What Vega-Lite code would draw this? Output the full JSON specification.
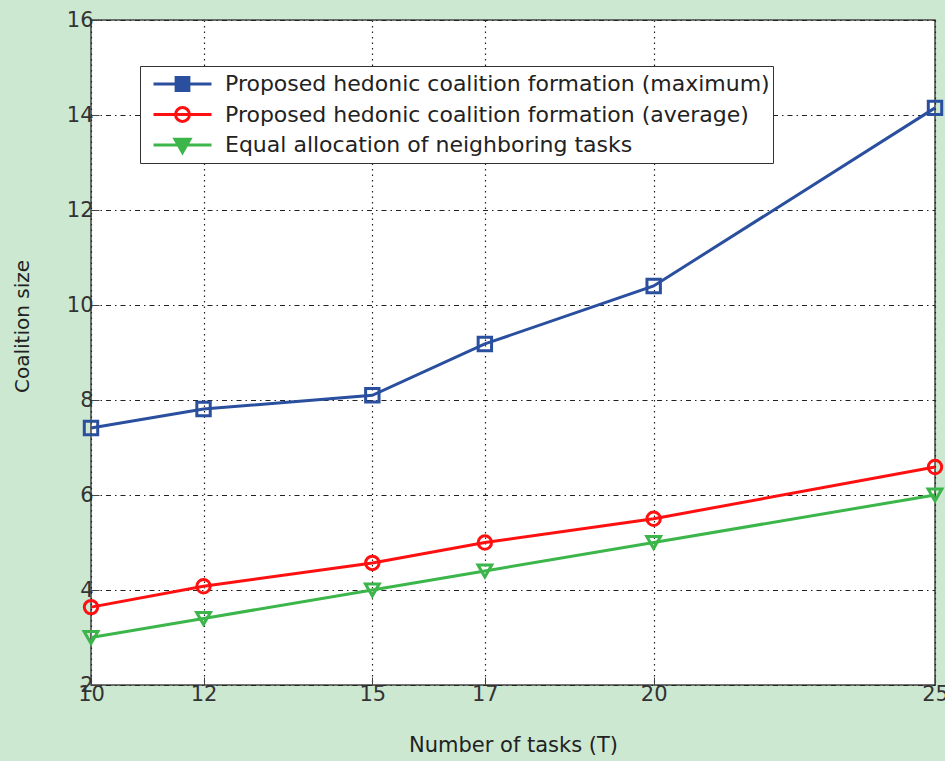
{
  "$schema": "https://vega.github.io/schema/vega-lite/v6.json",
  "width": 844,
  "height": 665,
  "autosize": "none",
  "padding": {"left": 91, "top": 20, "right": 10, "bottom": 76},
  "background": "#cce8d1",
  "config": {
    "font": "DejaVu Sans",
    "view": {"stroke": "#444", "strokeWidth": 1.5, "fill": "white"}
  },
  "data": {
    "values": [
      {"T": 10, "size": 7.41, "series": "Proposed hedonic coalition formation (maximum)"},
      {"T": 12, "size": 7.81, "series": "Proposed hedonic coalition formation (maximum)"},
      {"T": 15, "size": 8.1, "series": "Proposed hedonic coalition formation (maximum)"},
      {"T": 17, "size": 9.18, "series": "Proposed hedonic coalition formation (maximum)"},
      {"T": 20, "size": 10.4, "series": "Proposed hedonic coalition formation (maximum)"},
      {"T": 25, "size": 14.15, "series": "Proposed hedonic coalition formation (maximum)"},
      {"T": 10, "size": 3.64, "series": "Proposed hedonic coalition formation (average)"},
      {"T": 12, "size": 4.08, "series": "Proposed hedonic coalition formation (average)"},
      {"T": 15, "size": 4.57, "series": "Proposed hedonic coalition formation (average)"},
      {"T": 17, "size": 5.0, "series": "Proposed hedonic coalition formation (average)"},
      {"T": 20, "size": 5.5, "series": "Proposed hedonic coalition formation (average)"},
      {"T": 25, "size": 6.59, "series": "Proposed hedonic coalition formation (average)"},
      {"T": 10, "size": 3.0, "series": "Equal allocation of neighboring tasks"},
      {"T": 12, "size": 3.4, "series": "Equal allocation of neighboring tasks"},
      {"T": 15, "size": 4.0, "series": "Equal allocation of neighboring tasks"},
      {"T": 17, "size": 4.4, "series": "Equal allocation of neighboring tasks"},
      {"T": 20, "size": 5.0, "series": "Equal allocation of neighboring tasks"},
      {"T": 25, "size": 6.0, "series": "Equal allocation of neighboring tasks"}
    ]
  },
  "encoding": {
    "x": {
      "field": "T",
      "type": "quantitative",
      "scale": {"domain": [10, 25], "nice": false, "zero": false},
      "axis": {
        "values": [10, 12, 15, 17, 20, 25],
        "title": "Number of tasks (T)",
        "titleFontSize": 21,
        "titleFontWeight": "normal",
        "titleColor": "#222",
        "titleBaseline": "middle",
        "titleY": 60,
        "labelFontSize": 21,
        "labelColor": "#333",
        "labelPadding": 6,
        "labelFlush": false,
        "labelOverlap": false,
        "labelBound": false,
        "domain": false,
        "tickSize": -8,
        "tickColor": "#444",
        "grid": true,
        "gridColor": "#222",
        "gridDash": [1.5, 4],
        "gridWidth": 1.2
      }
    },
    "y": {
      "field": "size",
      "type": "quantitative",
      "scale": {"domain": [2, 16], "nice": false, "zero": false},
      "axis": {
        "values": [2, 4, 6, 8, 10, 12, 14, 16],
        "title": "Coalition size",
        "titleFontSize": 20,
        "titleFontWeight": "normal",
        "titleColor": "#222",
        "titleAngle": 270,
        "titleBaseline": "middle",
        "titleAlign": "center",
        "titleX": -69,
        "titleY": 306,
        "labelFontSize": 21,
        "labelColor": "#333",
        "labelPadding": 6,
        "labelFlush": false,
        "labelOverlap": false,
        "labelBound": false,
        "domain": false,
        "tickSize": -8,
        "tickColor": "#444",
        "grid": true,
        "gridColor": "#222",
        "gridDash": [5, 4, 1.5, 4],
        "gridWidth": 1.2
      }
    },
    "color": {
      "field": "series",
      "type": "nominal",
      "scale": {
        "domain": [
          "Proposed hedonic coalition formation (maximum)",
          "Proposed hedonic coalition formation (average)",
          "Equal allocation of neighboring tasks"
        ],
        "range": ["#2a4f9e", "#ff1010", "#3cb64a"]
      },
      "legend": {
        "title": null,
        "orient": "none",
        "legendX": 49,
        "legendY": 46,
        "padding": 3,
        "strokeColor": "#333",
        "fillColor": "white",
        "labelFontSize": 22,
        "labelColor": "#222",
        "labelLimit": 800,
        "symbolSize": 3364,
        "symbolStrokeWidth": 3,
        "clipHeight": 30,
        "rowPadding": 0.5,
        "symbolOffset": 9,
        "labelOffset": 12,
        "encode": {
          "symbols": {
            "update": {
              "shape": {"signal": "datum.value === 'Proposed hedonic coalition formation (maximum)' ? 'M-1,0H1M-0.22,-0.22H0.22V0.22H-0.22Z' : datum.value === 'Proposed hedonic coalition formation (average)' ? 'M-1,0H1M0.24,0A0.24,0.24 0 1,1 -0.24,0A0.24,0.24 0 1,1 0.24,0Z' : 'M-1,0H1M-0.26,-0.2L0.26,-0.2L0,0.26Z'"},
              "fill": {"signal": "datum.value === 'Proposed hedonic coalition formation (maximum)' ? '#2a4f9e' : datum.value === 'Equal allocation of neighboring tasks' ? '#3cb64a' : 'transparent'"},
              "strokeWidth": {"value": 3},
              "opacity": {"value": 1}
            }
          }
        }
      }
    }
  },
  "layer": [
    {"mark": {"type": "line", "strokeWidth": 3}},
    {
      "transform": [{"filter": "datum.series === 'Proposed hedonic coalition formation (maximum)'"}],
      "mark": {"type": "point", "shape": "square", "filled": false, "strokeWidth": 3, "opacity": 1, "size": 180}
    },
    {
      "transform": [{"filter": "datum.series === 'Proposed hedonic coalition formation (average)'"}],
      "mark": {"type": "point", "shape": "circle", "filled": false, "strokeWidth": 3, "opacity": 1, "size": 180}
    },
    {
      "transform": [{"filter": "datum.series === 'Equal allocation of neighboring tasks'"}],
      "mark": {"type": "point", "shape": "triangle-down", "filled": false, "strokeWidth": 3, "opacity": 1, "size": 190}
    }
  ]
}
